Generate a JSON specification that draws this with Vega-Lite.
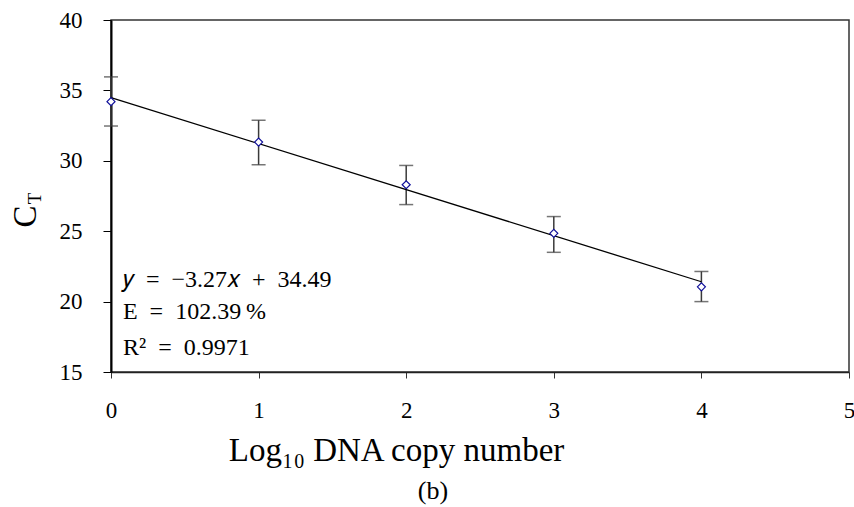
{
  "$schema": "https://vega.github.io/schema/vega-lite/v6.json",
  "width": 738,
  "height": 352,
  "autosize": "none",
  "padding": {"left": 111, "top": 20, "right": 5, "bottom": 135},
  "background": "white",
  "config": {
    "view": {"stroke": "#333333", "strokeWidth": 1.5},
    "font": "Liberation Serif, serif",
    "axis": {"grid": false, "labelFont": "Liberation Serif, serif", "titleFont": "Liberation Serif, serif", "labelColor": "black", "titleColor": "black", "titleFontWeight": "normal"}
  },
  "title": {"text": "(b)", "orient": "bottom", "anchor": "middle", "frame": "group", "dx": -47, "offset": 11, "fontSize": 26, "font": "Liberation Serif, serif", "fontWeight": "normal", "color": "black"},
  "datasets": {
    "pts": [
      {"logc": 0, "ct": 34.2, "lo": 32.47, "hi": 35.96},
      {"logc": 1, "ct": 31.33, "lo": 29.72, "hi": 32.88},
      {"logc": 2, "ct": 28.3, "lo": 26.89, "hi": 29.67},
      {"logc": 3, "ct": 24.85, "lo": 23.5, "hi": 26.04},
      {"logc": 4, "ct": 21.05, "lo": 20.0, "hi": 22.14}
    ],
    "fit": [
      {"logc": 0, "ct": 34.49},
      {"logc": 4, "ct": 21.41}
    ],
    "notes": [
      {"logc": 0.081, "ct": 21.04, "label": "\ud835\udc66\u2002=\u2002\u22123.27\ud835\udc65\u2002+\u200234.49"},
      {"logc": 0.081, "ct": 18.76, "label": "E\u2002=\u2002102.39\u2009%"},
      {"logc": 0.081, "ct": 16.21, "label": "R\u00b2\u2002=\u20020.9971"}
    ]
  },
  "layer": [
    {
      "data": {"name": "pts"},
      "mark": {"type": "rule", "color": "#3a3a3a", "strokeWidth": 1.5},
      "encoding": {
        "x": {"field": "logc", "type": "quantitative", "scale": {"domain": [0, 5], "nice": false},
          "axis": {"values": [0, 1, 2, 3, 4, 5], "format": "d", "title": "Log₁₀ DNA copy number", "titleFontSize": 33, "titleX": 285, "titleY": 88, "titleBaseline": "alphabetic", "labelFontSize": 23, "labelPadding": 21, "tickSize": 6, "tickColor": "#333333", "domainColor": "#222222", "domainWidth": 1.5, "labelFlush": false}},
        "y": {"field": "lo", "type": "quantitative", "scale": {"domain": [15, 40], "nice": false},
          "axis": {"values": [15, 20, 25, 30, 35, 40], "title": "C", "titleFontSize": 33, "titleAngle": -90, "titleX": -76, "titleY": 196, "titleAlign": "center", "titleBaseline": "alphabetic", "labelFontSize": 23, "labelPadding": 21, "tickSize": 8, "tickColor": "black", "domainColor": "black", "domainWidth": 2, "labelFlush": false}},
        "y2": {"field": "hi"}
      }
    },
    {
      "data": {"name": "pts"},
      "mark": {"type": "tick", "orient": "horizontal", "color": "#3a3a3a", "size": 14, "thickness": 1.5},
      "encoding": {
        "x": {"field": "logc", "type": "quantitative"},
        "y": {"field": "lo", "type": "quantitative", "axis": {"orient": "left", "title": "T", "titleFontSize": 19, "titleAngle": -90, "titleX": -71, "titleY": 178, "titleAlign": "center", "titleBaseline": "alphabetic", "domain": false, "ticks": false, "labels": false, "grid": false}}
      }
    },
    {
      "data": {"name": "pts"},
      "mark": {"type": "tick", "orient": "horizontal", "color": "#3a3a3a", "size": 14, "thickness": 1.5},
      "encoding": {
        "x": {"field": "logc", "type": "quantitative"},
        "y": {"field": "hi", "type": "quantitative", "axis": null}
      }
    },
    {
      "data": {"name": "fit"},
      "mark": {"type": "line", "color": "black", "strokeWidth": 1.3},
      "encoding": {
        "x": {"field": "logc", "type": "quantitative"},
        "y": {"field": "ct", "type": "quantitative", "axis": null}
      }
    },
    {
      "data": {"name": "pts"},
      "mark": {"type": "point", "shape": "diamond", "filled": false, "fill": "white", "fillOpacity": 1, "stroke": "#10109a", "strokeWidth": 1.2, "size": 64, "opacity": 1},
      "encoding": {
        "x": {"field": "logc", "type": "quantitative"},
        "y": {"field": "ct", "type": "quantitative", "axis": null}
      }
    },
    {
      "data": {"name": "notes"},
      "mark": {"type": "text", "align": "left", "baseline": "alphabetic", "fontSize": 24, "font": "Liberation Serif, serif", "color": "black"},
      "encoding": {
        "x": {"field": "logc", "type": "quantitative"},
        "y": {"field": "ct", "type": "quantitative", "axis": null},
        "text": {"field": "label"}
      }
    }
  ],
  "resolve": {"axis": {"y": "independent"}}
}
